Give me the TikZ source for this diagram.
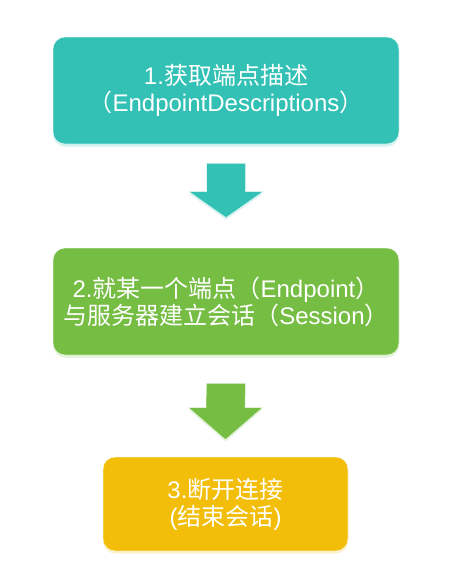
\documentclass[tikz,border=0pt]{standalone}
\usepackage{fontspec}
\setmainfont{Liberation Sans}
\newfontfamily\cjk{Noto Sans CJK SC}
\usetikzlibrary{calc,shadows}
\definecolor{tealbox}{RGB}{50,193,180}
\definecolor{greenbox}{RGB}{118,189,67}
\definecolor{yellowbox}{RGB}{242,190,10}
\tikzset{
  stagebox/.style={
    shape = rectangle,
    rounded corners = 12pt,
    inner sep = 0pt,
    align = center,
    text = white,
    fill = #1,
    draw = white,
    draw opacity = 0.6,
    line width = 0.8pt,
    drop shadow = {shadow xshift=0pt, shadow yshift=-2.5pt, opacity=0.45, fill=#1!45},
    font = \fontsize{24}{27}\selectfont
  },
  blockarrow/.style={
    fill = #1,
    draw = white,
    draw opacity = 0.6,
    line width = 0.6pt,
    drop shadow = {shadow xshift=0pt, shadow yshift=-2pt, opacity=0.4, fill=#1!45}
  },
}

\begin{document}
\begin{tikzpicture}[x=1pt,y=-1pt]
\useasboundingbox[fill=white] (0,0) rectangle (448,571);
\node[stagebox=tealbox, minimum width=346pt, minimum height=107pt] (s1) at (226,90.5)
  {1.{\cjk 获取端点描述}\\{\cjk （}EndpointDescriptions{\cjk ）}};
\node[stagebox=greenbox, minimum width=346pt, minimum height=107pt] (s2) at (226,301.5)
  {2.{\cjk 就某一个端点（}Endpoint{\cjk ）}\\{\cjk 与服务器建立会话（}Session{\cjk ）}};
\node[stagebox=yellowbox, minimum width=245pt, minimum height=94pt] (s3) at (225.5,504)
  {3.{\cjk 断开连接}\\({\cjk 结束会话})};
		  \foreach \from/\to/\col/\ga/\gb/\hd in {s1/s2/tealbox/19/30/26, s2/s3/greenbox/28/17/32}{
		    \coordinate (top) at ($(\from.south)+(0,\ga)$);
		    \coordinate (tip) at ($(\to.north)+(0,-\gb)$);
		    \path[blockarrow=\col] ($(top)+(-19.5,0)$) -- ($(top)+(19.5,0)$) -- ($(tip)+(19.5,-\hd)$)
		      -- ($(tip)+(37,-\hd)$) -- (tip) -- ($(tip)+(-37,-\hd)$) -- ($(tip)+(-19.5,-\hd)$) -- cycle; }
\end{tikzpicture}
\end{document}
